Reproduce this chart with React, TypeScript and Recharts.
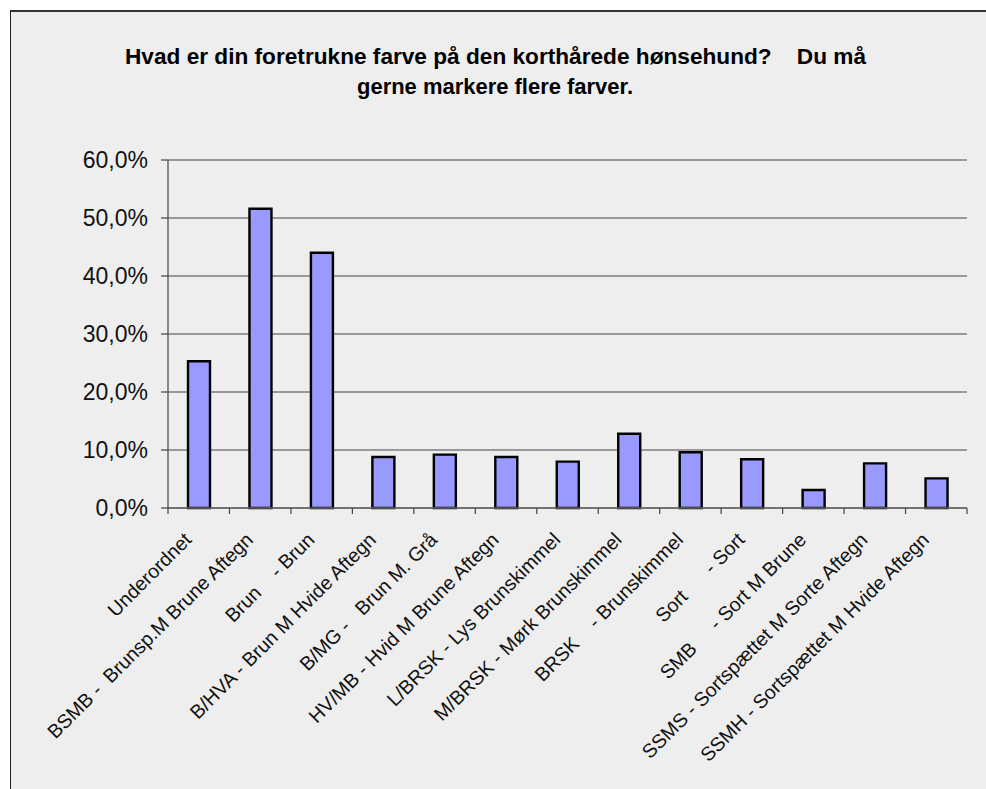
import React from 'react';
import { BarChart, Bar, XAxis, YAxis, CartesianGrid } from 'recharts';

const categories = [
  'Underordnet',
  'BSMB -  Brunsp.M Brune Aftegn',
  'Brun    - Brun',
  'B/HVA - Brun M Hvide Aftegn',
  'B/MG -   Brun M. Grå',
  'HV/MB - Hvid M Brune Aftegn',
  'L/BRSK - Lys Brunskimmel',
  'M/BRSK - Mørk Brunskimmel',
  'BRSK    - Brunskimmel',
  'Sort      - Sort',
  'SMB     - Sort M Brune',
  'SSMS - Sortspættet M Sorte Aftegn',
  'SSMH - Sortspættet M Hvide Aftegn',
];

const percentages = [25.3, 51.6, 44.0, 8.8, 9.2, 8.8, 8.0, 12.8, 9.6, 8.4, 3.1, 7.7, 5.1];

const yTicks = [0, 10, 20, 30, 40, 50, 60];

const titleLines = [
  'Hvad er din foretrukne farve på den korthårede hønsehund?    Du må',
  'gerne markere flere farver.',
];

const data = categories.map((name, i) => ({ name, value: percentages[i] }));

const FONT = '"Liberation Sans", Arial, sans-serif';

// Excel puts the category tick marks between the bars, so draw them from the tick itself
const CategoryTick = (props: any) => {
  const { x, y, payload, index, width } = props;
  const band = (typeof width === 'number' && width > 0 ? width : 799) / categories.length;
  const px = x - 6;
  const py = y + 33;
  const isLast = index === categories.length - 1;
  return (
    <g>
      <line x1={x - band / 2} x2={x - band / 2} y1={y} y2={y + 6} stroke="#444" strokeWidth={1.2} />
      {isLast && <line x1={x + band / 2} x2={x + band / 2} y1={y} y2={y + 6} stroke="#444" strokeWidth={1.2} />}
      <text
        x={px}
        y={py}
        transform={`rotate(-45 ${px} ${py})`}
        textAnchor="end"
        fontSize={19.6}
        fontFamily={FONT}
        fill="#111"
        style={{ whiteSpace: 'pre' }}
      >
        {payload.value}
      </text>
    </g>
  );
};

const fmtPct = (v: number) => `${v.toFixed(1).replace('.', ',')}%`;

export default function App() {
  return (
    <div style={{ position: 'absolute', left: 0, top: 0, width: 986, height: 789, background: '#fff', overflow: 'hidden' }}>
      {/* grey chart area with the Excel-like frame */}
      <div
        style={{
          position: 'absolute',
          left: 10,
          top: 10,
          width: 1000,
          height: 800,
          background: '#eeeeee',
          borderLeft: '1.5px solid #222',
          borderTop: '2px solid #333',
        }}
      />
      <div style={{ position: 'absolute', left: 0, top: 0 }}>
        <BarChart
          width={986}
          height={789}
          data={data}
          margin={{ top: 160, right: 19, left: 0, bottom: 241 }}
          barSize={22}
        >
          <CartesianGrid horizontal vertical={false} stroke="#444" strokeWidth={1.2} />
          <XAxis
            dataKey="name"
            height={40}
            interval={0}
            tickLine={false}
            axisLine={{ stroke: '#666', strokeWidth: 1.5 }}
            tickSize={0}
            tickMargin={0}
            tick={<CategoryTick />}
          />
          <YAxis
            width={168}
            domain={[0, 60]}
            ticks={yTicks}
            tickSize={7}
            tickMargin={13}
            tickFormatter={fmtPct}
            tick={{ fill: '#111', fontSize: 23, fontFamily: FONT }}
            tickLine={{ stroke: '#444', strokeWidth: 1.2 }}
            axisLine={{ stroke: '#444', strokeWidth: 1.2 }}
          />
          <Bar
            dataKey="value"
            fill="#9999ff"
            stroke="#000"
            strokeWidth={2.4}
            isAnimationActive={false}
          />
        </BarChart>
      </div>
      <svg width={986} height={120} style={{ position: 'absolute', left: 0, top: 0 }}>
        <text
          x={125}
          y={64}
          fontSize={22.5}
          fontWeight="bold"
          fontFamily={FONT}
          fill="#000"
          textLength={741}
          lengthAdjust="spacingAndGlyphs"
          style={{ whiteSpace: 'pre' }}
        >
          {titleLines[0]}
        </text>
        <text
          x={357}
          y={94}
          fontSize={22.5}
          fontWeight="bold"
          fontFamily={FONT}
          fill="#000"
          textLength={276}
          lengthAdjust="spacingAndGlyphs"
          style={{ whiteSpace: 'pre' }}
        >
          {titleLines[1]}
        </text>
      </svg>
    </div>
  );
}
